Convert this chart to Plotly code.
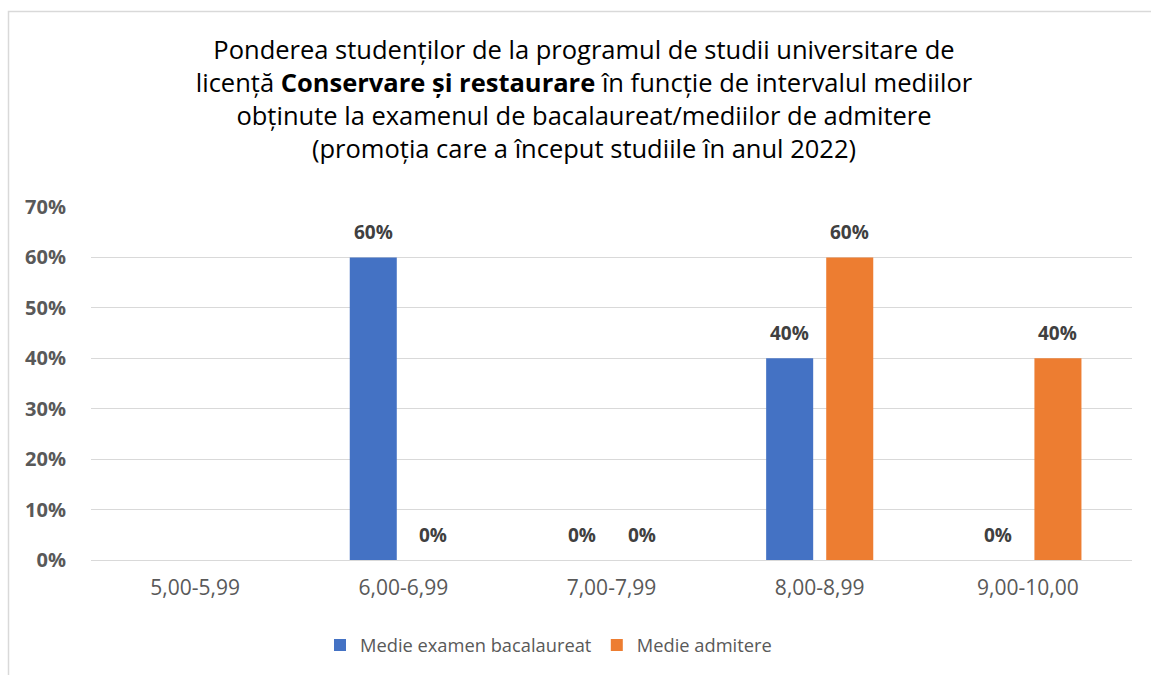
import plotly.graph_objects as go

categories = ["5,00-5,99", "6,00-6,99", "7,00-7,99", "8,00-8,99", "9,00-10,00"]
bac_values = [None, 0.60, 0.0, 0.40, 0.0]
adm_values = [None, 0.0, 0.0, 0.60, 0.40]
series_names = ["Medie examen bacalaureat", "Medie admitere"]
series_colors = ["#4472C4", "#ED7D31"]
y_ticks = [0, 0.1, 0.2, 0.3, 0.4, 0.5, 0.6, 0.7]
y_tick_labels = ["0%", "10%", "20%", "30%", "40%", "50%", "60%", "70%"]

FONT = "'Open Sans', 'Noto Sans', sans-serif"

L, R, T, B = 91, 19, 207, 115
W, H = 1151, 675
pw, ph = W - L - R, H - T - B

fig = go.Figure()
for name, vals, col in zip(series_names, [bac_values, adm_values], series_colors):
    fig.add_trace(go.Bar(
        x=categories, y=vals, name=name,
        marker=dict(color=col, line=dict(width=0)),
        hoverinfo="x+y+name",
    ))

# data labels above each bar (offset left/right to the grouped bar position)
for vals, dx in zip([bac_values, adm_values], [-30, 30]):
    for c, v in zip(categories, vals):
        if v is None:
            continue
        fig.add_annotation(
            x=c, y=v, xref="x", yref="y", text=f"{v:.0%}",
            showarrow=False, xshift=dx, yshift=10, yanchor="bottom",
            font=dict(family=FONT, size=19, color="#404040", weight="bold"),
        )


def px_to_paper_x(px):
    return (px - L) / pw


def px_to_paper_y(py):
    return (H - B - py) / ph


fig.add_shape(type="rect", xref="paper", yref="paper",
              x0=px_to_paper_x(8.5), x1=px_to_paper_x(1200),
              y0=px_to_paper_y(800), y1=px_to_paper_y(11.5),
              line=dict(color="#d9d9d9", width=1.5), fillcolor="rgba(0,0,0,0)", layer="below")

fig.update_layout(
    width=W, height=H,
    margin=dict(l=L, r=R, t=T, b=B, autoexpand=False),
    paper_bgcolor="white", plot_bgcolor="white",
    barmode="group", bargap=0.423, bargroupgap=0.217,
    title=dict(
        text="Ponderea studenților de la programul de studii universitare de<br>"
             "licență <b>Conservare și restaurare</b> în funcție de intervalul mediilor<br>"
             "obținute la examenul de bacalaureat/mediilor de admitere<br>"
             "(promoția care a început studiile în anul 2022)",
        x=px_to_paper_x(584), xanchor="center", xref="paper",
        y=1 - 59 / H, yanchor="top",
        font=dict(family=FONT, size=25.5, color="#000000"),
    ),
    xaxis=dict(
        showgrid=False, showline=False, ticks="",
        tickfont=dict(family=FONT, size=21, color="#595959"),
        ticklabelstandoff=13,
    ),
    yaxis=dict(
        range=[0, 0.7], tickvals=y_ticks, ticktext=y_tick_labels,
        showgrid=True, gridcolor="#d9d9d9", gridwidth=1.3,
        zeroline=True, zerolinecolor="#d9d9d9", zerolinewidth=1.3,
        showline=False, ticks="",
        tickfont=dict(family=FONT, size=20, color="#595959", weight="bold"),
        ticklabelstandoff=24,
    ),
    legend=dict(
        orientation="h", x=px_to_paper_x(320), xanchor="left",
        y=px_to_paper_y(645), yanchor="middle",
        font=dict(family=FONT, size=18.3, color="#595959"),
        itemwidth=30,
    ),
    showlegend=True,
)

fig.write_html("out.html", config={"displayModeBar": False},
               post_script="document.body.style.margin='0';")
